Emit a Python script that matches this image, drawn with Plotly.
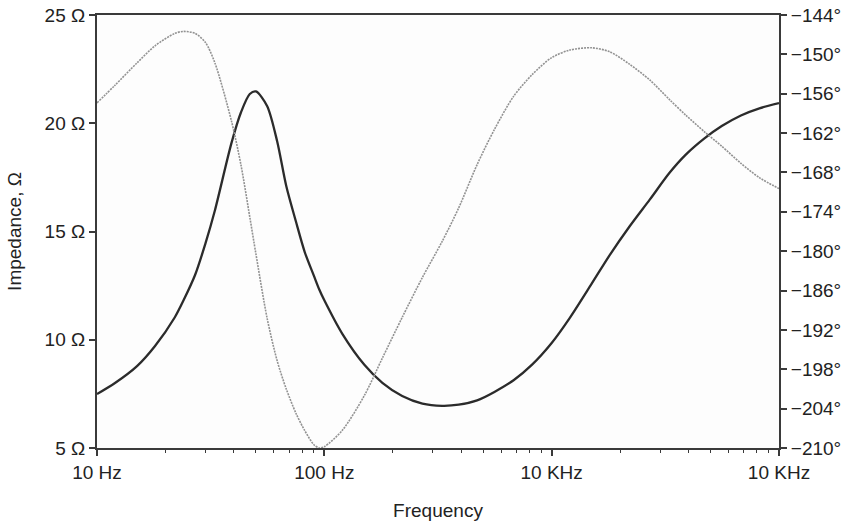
import plotly.graph_objects as go

# Frequency sweep (Hz)
freq_hz = [10, 12, 15, 18, 22, 24, 27, 30, 33, 39, 43, 47, 50, 56, 62, 68, 75, 82, 90, 95,
           100, 120, 150, 180, 220, 270, 330, 390, 470, 560, 680, 820,
           1000, 1200, 1500, 1800, 2200, 2700, 3300, 3900, 4700, 5600, 6800, 8200, 10000]

# Impedance magnitude (ohms)
impedance_ohm = [7.49, 8.00, 8.78, 9.71, 11.04, 11.81, 12.99, 14.45, 15.97, 19.07, 20.51, 21.35, 21.47,
                 20.80, 19.17, 17.10, 15.46, 14.05, 12.95, 12.32,
                 11.82, 10.27, 8.84, 8.01, 7.40, 7.05, 6.95, 7.00, 7.20, 7.59, 8.13, 8.85,
                 9.85, 11.00, 12.59, 13.91, 15.23, 16.47, 17.71, 18.56, 19.30, 19.87, 20.36, 20.69, 20.93]

# Phase angle (degrees)
phase_deg = [-157.4, -154.7, -151.3, -148.7, -146.8, -146.5, -146.8, -148.2, -151.3, -160.1, -166.9,
             -174.8, -180.4, -190.2, -196.7, -201.0, -204.7, -207.35, -209.5, -210.0,
             -209.8, -207.3, -202.0, -196.3, -190.1, -184.0, -178.5, -173.4, -166.8, -161.45, -156.4, -153.1,
             -150.5, -149.35, -149.0, -149.6, -151.5, -153.9, -156.9, -159.3, -161.8, -164.0, -166.6, -168.8, -170.45]

# Axis ticks
x_tickvals = [10, 100, 1000, 10000]
x_ticktext = ["10 Hz", "100 Hz", "10 KHz", "10 KHz"]
x_minor = [d * k for d in (10, 100, 1000) for k in range(2, 10)]
y_ticks = [5, 10, 15, 20, 25]
y2_ticks = list(range(-210, -143, 6))

font_family = "Liberation Sans, Arial, sans-serif"
font_size = 19
axis_color = "#3a3a3a"

fig = go.Figure()

fig.add_trace(go.Scatter(
    x=freq_hz, y=phase_deg, yaxis="y2", mode="lines",
    line=dict(color="#929292", width=1.6, dash="2px,1px", shape="spline", smoothing=0.8),
    name="Phase", showlegend=False, hoverinfo="skip",
))

fig.add_trace(go.Scatter(
    x=freq_hz, y=impedance_ohm, mode="lines",
    line=dict(color="#2b2b2b", width=2.3, shape="spline", smoothing=0.8),
    name="Impedance", showlegend=False,
))

fig.update_layout(
    width=853, height=524,
    margin=dict(l=97, r=74, t=15, b=76),
    paper_bgcolor="white", plot_bgcolor="#fdfdfd",
    font=dict(family=font_family, size=font_size, color="#222222"),
    xaxis=dict(
        type="log", range=[1, 4], automargin=False,
        tickmode="array", tickvals=x_tickvals, ticktext=x_ticktext,
        ticks="outside", ticklen=6, tickwidth=1.5, tickcolor=axis_color,
        minor=dict(tickvals=x_minor, ticks="outside", ticklen=3, tickwidth=1.2,
                   tickcolor=axis_color, showgrid=False),
        showline=True, linecolor=axis_color, linewidth=2, mirror=True,
        showgrid=False, zeroline=False,
        title=dict(text="Frequency", font=dict(size=font_size), standoff=22),
        tickfont=dict(size=font_size),
    ),
    yaxis=dict(
        range=[5, 25], automargin=False, tickmode="array", tickvals=y_ticks,
        ticktext=[f"{v} Ω" for v in y_ticks],
        ticks="outside", ticklen=6, tickwidth=1.5, tickcolor=axis_color,
        showline=True, linecolor=axis_color, linewidth=2,
        showgrid=False, zeroline=False,
        title=dict(text="Impedance, Ω", font=dict(size=font_size), standoff=18),
        tickfont=dict(size=font_size),
    ),
    yaxis2=dict(
        range=[-210, -144], automargin=False, tickmode="array", tickvals=y2_ticks,
        ticktext=[f"\u2212{abs(v)}°" for v in y2_ticks],
        overlaying="y", side="right",
        ticks="outside", ticklen=6, tickwidth=1.5, tickcolor=axis_color,
        showline=True, linecolor=axis_color, linewidth=2,
        showgrid=False, zeroline=False,
        tickfont=dict(size=font_size),
    ),
)

fig.write_html("out.html")
